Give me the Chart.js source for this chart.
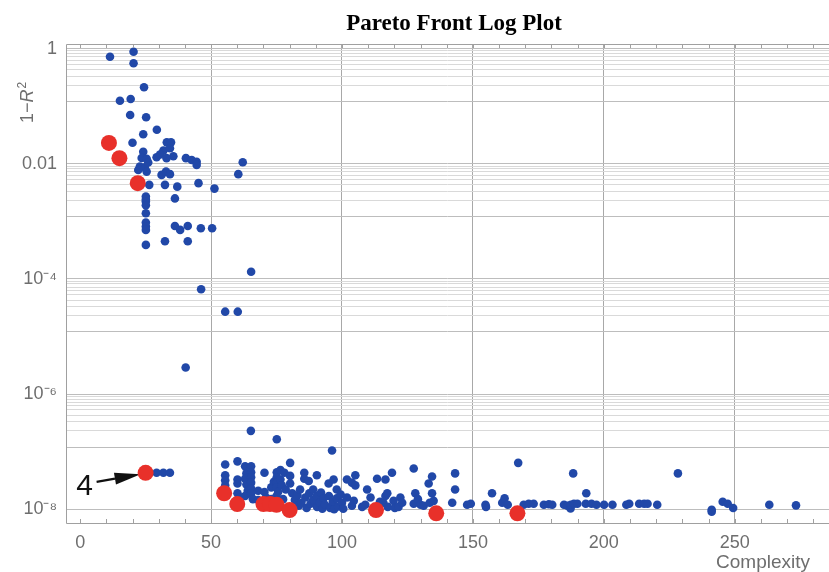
<!DOCTYPE html>
<html>
<head>
<meta charset="utf-8">
<title>Pareto Front Log Plot</title>
<script src="https://cdn.jsdelivr.net/npm/chart.js@4.4.1/dist/chart.umd.min.js"></script>
<style>
  html, body { margin: 0; padding: 0; background: #fff; }
  #wrap { width: 829px; height: 572px; }
</style>
</head>
<body>
<div id="wrap"><canvas id="pareto" width="829" height="572"></canvas></div>
<script>
// ---- values ----

// red = Pareto front members
const redX = [11, 15, 22, 25, 55, 60, 70, 72.5, 75, 80, 113, 136, 167];
const redY = [0.023, 0.0125, 0.0046, 4.3e-8, 1.9e-8, 1.23e-8, 1.23e-8, 1.23e-8, 1.2e-8, 9.7e-9, 9.7e-9, 8.5e-9, 8.5e-9];

// blue, upper group (complexity < 70, error > 1e-6)
const upperX = [11.4, 20.4, 20.4, 24.4, 15.2, 19.3, 19.1, 25.2, 29.3, 24.1, 20.0, 33.1, 34.7, 24.1, 31.8, 34.3,
  23.5, 25.4, 29.2, 30.5, 35.6, 33, 40.4, 42.6, 44.5, 44.5, 62.1, 60.4, 22.8, 24.7, 22.2, 25.4, 26, 31.1, 32.8, 34.3,
  26.4, 32.4, 37.1, 45.2, 51.3, 25.1, 25.1, 25.1, 25.1, 36.2, 25.1, 25.1, 25.1, 25.1, 36.2, 38.2, 41.1, 46.1, 50.4,
  25.1, 32.4, 41.1, 65.3, 46.2, 55.4, 60.2, 40.3];
const upperY = [0.72, 0.88, 0.555, 0.213, 0.124, 0.133, 0.0703, 0.064, 0.039, 0.0325, 0.0232, 0.0235, 0.0235, 0.0162, 0.0169, 0.0186,
  0.0126, 0.0122, 0.013, 0.0145, 0.0135, 0.0125, 0.0125, 0.0116, 0.0108, 0.0095, 0.0106, 0.0066, 0.0089, 0.0087, 0.0078, 0.0073, 0.0105, 0.0064, 0.0073, 0.0066,
  0.0043, 0.0043, 0.004, 0.0046, 0.0037, 0.0027, 0.0024, 0.0022, 0.0019, 0.0025, 0.00138, 0.00095, 0.00081, 0.00071, 0.00083, 0.00071, 0.00083, 0.00076, 0.00076,
  0.00039, 0.00045, 0.00045, 1.33e-4, 6.6e-5, 2.7e-5, 2.7e-5, 2.9e-6];

// blue, lower group (error near 1e-8)
const lowerX = [65.2, 75.1, 96.2, 29.2, 31.8, 34.3,
  55.4, 55.4, 55.4, 55.4, 60.1, 60.1, 60.1, 60.1, 61, 63, 63.5, 63, 63.5, 64, 63, 65.3, 65.3, 65.3, 65.3, 65.3, 65.3, 66, 68, 68,
  70.4, 70.4, 71, 73, 73, 74, 75.1, 75.1, 75.1, 75.1, 75.6, 75, 76.5, 76.5, 77, 77.5, 78, 78.5, 80.2, 80.2, 80.2, 81,
  82, 83, 83.5, 84, 84.5, 85.6, 85.6, 86, 86.5, 87.3, 87.5, 88, 89, 89, 90.4, 90.4, 90.5, 91.5, 92, 92.5, 93, 93.5,
  94.9, 95, 95.5, 96.8, 96.5, 97, 98, 98, 98.5, 99.5, 100, 100.5,
  101.9, 101.9, 103.8, 103.8, 105.1, 105.1, 104.5, 107.7, 108.9, 109.6, 110.9, 113.4, 114.5, 115.8, 116.6, 116.6, 117.3, 117.5,
  119.1, 119.7, 120.2, 121.6, 122.3, 123, 127.4, 128, 127.4, 129, 130, 131.2, 133.1, 134.4, 134.4, 133.5, 135,
  142.1, 143.2, 143.2, 147.8, 149.2, 154.8, 155, 157.3, 161.2, 162.1, 163.3, 167.3,
  169.4, 171.3, 173.2, 177.1, 179, 180.3, 184.8, 186.1, 187.3, 187.4, 188.3, 188.6, 189.9,
  193.3, 193.1, 195.3, 197.2, 200.1, 203.3, 208.6, 209.7, 213.5, 215.4, 216.7, 220.4,
  228.3, 241.2, 241.2, 245.4, 247.3, 249.4, 263.2, 273.4];
const lowerY = [2.3e-7, 1.64e-7, 1.05e-7, 4.3e-8, 4.3e-8, 4.3e-8,
  6.0e-8, 3.9e-8, 3.2e-8, 2.6e-8, 6.8e-8, 3.3e-8, 2.8e-8, 1.9e-8, 1.6e-8, 5.6e-8, 4.2e-8, 3.4e-8, 2.7e-8, 2.1e-8, 1.7e-8, 5.6e-8, 4.4e-8, 3.6e-8, 2.9e-8, 2.3e-8, 1.9e-8, 1.5e-8, 2.1e-8, 1.45e-8,
  4.3e-8, 2.0e-8, 1.6e-8, 2.4e-8, 1.5e-8, 3.0e-8, 4.4e-8, 3.6e-8, 2.9e-8, 2.4e-8, 2.0e-8, 1.7e-8, 4.8e-8, 3.3e-8, 2.6e-8, 1.5e-8, 4.3e-8, 2.2e-8, 6.4e-8, 3.8e-8, 2.8e-8, 1.9e-8,
  1.45e-8, 1.75e-8, 1.15e-8, 2.2e-8, 1.3e-8, 4.3e-8, 3.4e-8, 1.6e-8, 1.05e-8, 3.1e-8, 1.9e-8, 1.25e-8, 1.45e-8, 2.2e-8, 3.9e-8, 1.7e-8, 1.1e-8, 1.3e-8, 1.95e-8, 1.02e-8, 1.55e-8, 1.2e-8,
  2.8e-8, 1.7e-8, 1.05e-8, 3.3e-8, 1.35e-8, 1.0e-8, 2.2e-8, 1.55e-8, 1.12e-8, 1.8e-8, 1.3e-8, 1.02e-8,
  3.3e-8, 1.6e-8, 2.9e-8, 1.15e-8, 3.9e-8, 2.6e-8, 1.4e-8, 1.1e-8, 1.2e-8, 2.2e-8, 1.6e-8, 3.4e-8, 1.35e-8, 1.3e-8, 3.3e-8, 1.7e-8, 1.9e-8, 1.1e-8,
  4.3e-8, 1.4e-8, 1.05e-8, 1.1e-8, 1.6e-8, 1.3e-8, 5.1e-8, 1.9e-8, 1.25e-8, 1.5e-8, 1.2e-8, 1.15e-8, 2.8e-8, 3.7e-8, 1.9e-8, 1.3e-8, 1.4e-8,
  1.3e-8, 4.2e-8, 2.2e-8, 1.2e-8, 1.25e-8, 1.2e-8, 1.1e-8, 1.9e-8, 1.3e-8, 1.55e-8, 1.2e-8, 6.4e-8,
  1.2e-8, 1.25e-8, 1.25e-8, 1.2e-8, 1.22e-8, 1.2e-8, 1.2e-8, 1.15e-8, 1.03e-8, 1.2e-8, 4.2e-8, 1.25e-8, 1.25e-8,
  1.9e-8, 1.25e-8, 1.25e-8, 1.2e-8, 1.2e-8, 1.2e-8, 1.2e-8, 1.25e-8, 1.25e-8, 1.25e-8, 1.25e-8, 1.2e-8,
  4.2e-8, 9.1e-9, 9.8e-9, 1.35e-8, 1.25e-8, 1.05e-8, 1.2e-8, 1.17e-8];

// axes
const xTickLabels = [0, 50, 100, 150, 200, 250];
const xMinorStep = 10;
const yMajorTicks = [1, 0.01, 1e-4, 1e-6, 1e-8];
const yTickLabels = ['1', '0.01', '10\u207B\u2074', '10\u207B\u2076', '10\u207B\u2078'];
// grid cluster under each labelled decade (as drawn in the original)
const yGridFactors = [1, 0.91, 0.82, 0.72, 0.63, 0.53, 0.43, 0.33, 0.23, 0.12];

const annotatedIndex = 3; // red point marked "4"
const annotationText = '4';

// ---- styling ----
const BLUE = '#2148a8';
const RED = '#e8302a';
const TEXT_GRAY = '#6e6e6e';
const FRAME_GRAY = '#a0a0a0';

function toPoints(xs, ys) {
  return xs.map((x, i) => ({ x, y: ys[i] }));
}

const decorPlugin = {
  id: 'decor',
  beforeDatasetsDraw(chart) {
    // arrow + label pointing at the annotated red point
    const { ctx, scales } = chart;
    const px = scales.x.getPixelForValue(redX[annotatedIndex]);
    const py = scales.y.getPixelForValue(redY[annotatedIndex]);
    const tip = { x: px - 5, y: py + 1.5 };
    const tail = { x: px - 49, y: py + 9 };
    const ang = Math.atan2(tip.y - tail.y, tip.x - tail.x);
    const headLen = 26, headW = 6;
    const base = { x: tip.x - headLen * Math.cos(ang), y: tip.y - headLen * Math.sin(ang) };

    ctx.save();
    ctx.strokeStyle = '#111';
    ctx.fillStyle = '#111';
    ctx.lineWidth = 2.2;
    ctx.beginPath();
    ctx.moveTo(tail.x, tail.y);
    ctx.lineTo(base.x, base.y);
    ctx.stroke();
    ctx.beginPath();
    ctx.moveTo(tip.x, tip.y);
    ctx.lineTo(base.x + headW * Math.sin(ang), base.y - headW * Math.cos(ang));
    ctx.lineTo(base.x - headW * Math.sin(ang), base.y + headW * Math.cos(ang));
    ctx.closePath();
    ctx.fill();

    ctx.font = '30px "Liberation Sans"';
    ctx.textAlign = 'center';
    ctx.textBaseline = 'middle';
    ctx.fillText(annotationText, px - 61, py + 14);
    ctx.restore();
  },
  afterDraw(chart) {
    const { ctx, chartArea: a, scales } = chart;
    ctx.save();

    // frame (left, top, bottom) and inward tick marks
    ctx.strokeStyle = FRAME_GRAY;
    ctx.lineWidth = 1;
    ctx.beginPath();
    ctx.moveTo(a.right, a.top + 0.5);
    ctx.lineTo(a.left + 0.5, a.top + 0.5);
    ctx.lineTo(a.left + 0.5, a.bottom + 0.5);
    ctx.lineTo(a.right, a.bottom + 0.5);
    ctx.stroke();
    ctx.beginPath();
    scales.x.ticks.forEach((t) => {
      const x = Math.round(scales.x.getPixelForValue(t.value)) + 0.5;
      ctx.moveTo(x, a.bottom);
      ctx.lineTo(x, a.bottom - 4);
      ctx.moveTo(x, a.top);
      ctx.lineTo(x, a.top + 4);
    });
    ctx.stroke();

    // title
    ctx.fillStyle = '#000';
    ctx.font = 'bold 23px "Liberation Serif"';
    ctx.textAlign = 'center';
    ctx.textBaseline = 'middle';
    ctx.fillText('Pareto Front Log Plot', 454, 24);

    // x axis title
    ctx.fillStyle = TEXT_GRAY;
    ctx.font = '19px "Liberation Sans"';
    ctx.fillText('Complexity', 763, 563);

    // y axis title 1−R²
    ctx.translate(33, 123);
    ctx.rotate(-Math.PI / 2);
    ctx.textAlign = 'left';
    ctx.textBaseline = 'alphabetic';
    ctx.font = '18px "Liberation Sans"';
    ctx.fillText('1\u2212', 0, 0);
    let w = ctx.measureText('1\u2212').width;
    ctx.font = 'italic 18px "Liberation Sans"';
    ctx.fillText('R', w, 0);
    w += ctx.measureText('R').width;
    ctx.font = '12px "Liberation Sans"';
    ctx.fillText('2', w + 1, -7);
    ctx.restore();
  },
};

function yTickIndex(v) {
  return yMajorTicks.findIndex((m) => Math.abs(v / m - 1) < 1e-6);
}

new Chart(document.getElementById('pareto'), {
  type: 'scatter',
  data: {
    datasets: [
      {
        label: 'Pareto front',
        data: toPoints(redX, redY),
        backgroundColor: RED,
        borderWidth: 0,
        pointRadius: 8,
      },
      {
        label: 'models',
        data: toPoints(upperX, upperY).concat(toPoints(lowerX, lowerY)),
        backgroundColor: BLUE,
        borderWidth: 0,
        pointRadius: 4.3,
      },
    ],
  },
  options: {
    responsive: false,
    animation: false,
    devicePixelRatio: 1,
    layout: { autoPadding: false, padding: { top: 44, right: 0, left: 0, bottom: 0 } },
    plugins: {
      legend: { display: false },
      tooltip: { enabled: false },
    },
    scales: {
      x: {
        type: 'linear',
        min: -5.4,
        max: 286,
        afterBuildTicks: (scale) => {
          const ticks = [];
          for (let v = 0; v <= scale.max; v += xMinorStep) ticks.push({ value: v });
          scale.ticks = ticks;
        },
        afterFit: (scale) => { scale.height = 49; },
        border: { display: false },
        grid: {
          drawTicks: false,
          color: (c) => (c.tick && c.tick.value !== 0 && xTickLabels.includes(c.tick.value) ? '#a8a8a8' : 'rgba(0,0,0,0)'),
        },
        ticks: {
          autoSkip: false,
          maxRotation: 0,
          padding: 9,
          color: TEXT_GRAY,
          font: { family: 'Liberation Sans', size: 18 },
          callback: (v) => (xTickLabels.includes(v) ? String(v) : ''),
        },
      },
      y: {
        type: 'logarithmic',
        min: 5.78e-9,
        max: 1.2,
        afterBuildTicks: (scale) => {
          const ticks = [];
          yMajorTicks.forEach((m) => {
            yGridFactors.forEach((f, i) => {
              const v = m * f;
              if (v >= 1e-8 * 0.999) ticks.push({ value: v, major: i === 0 || i === yGridFactors.length - 1 });
            });
          });
          scale.ticks = ticks.sort((p, q) => p.value - q.value);
        },
        afterFit: (scale) => { scale.width = 66; },
        border: { display: false },
        grid: {
          drawTicks: false,
          color: (c) => (c.tick && c.tick.major ? '#bdbdbd' : '#d9d9d9'),
        },
        ticks: {
          autoSkip: false,
          padding: 9,
          color: TEXT_GRAY,
          font: { family: 'Liberation Sans', size: 18 },
          callback: (v) => {
            const i = yTickIndex(v);
            return i >= 0 ? yTickLabels[i] : '';
          },
        },
      },
    },
  },
  plugins: [decorPlugin],
});
</script>
</body>
</html>
